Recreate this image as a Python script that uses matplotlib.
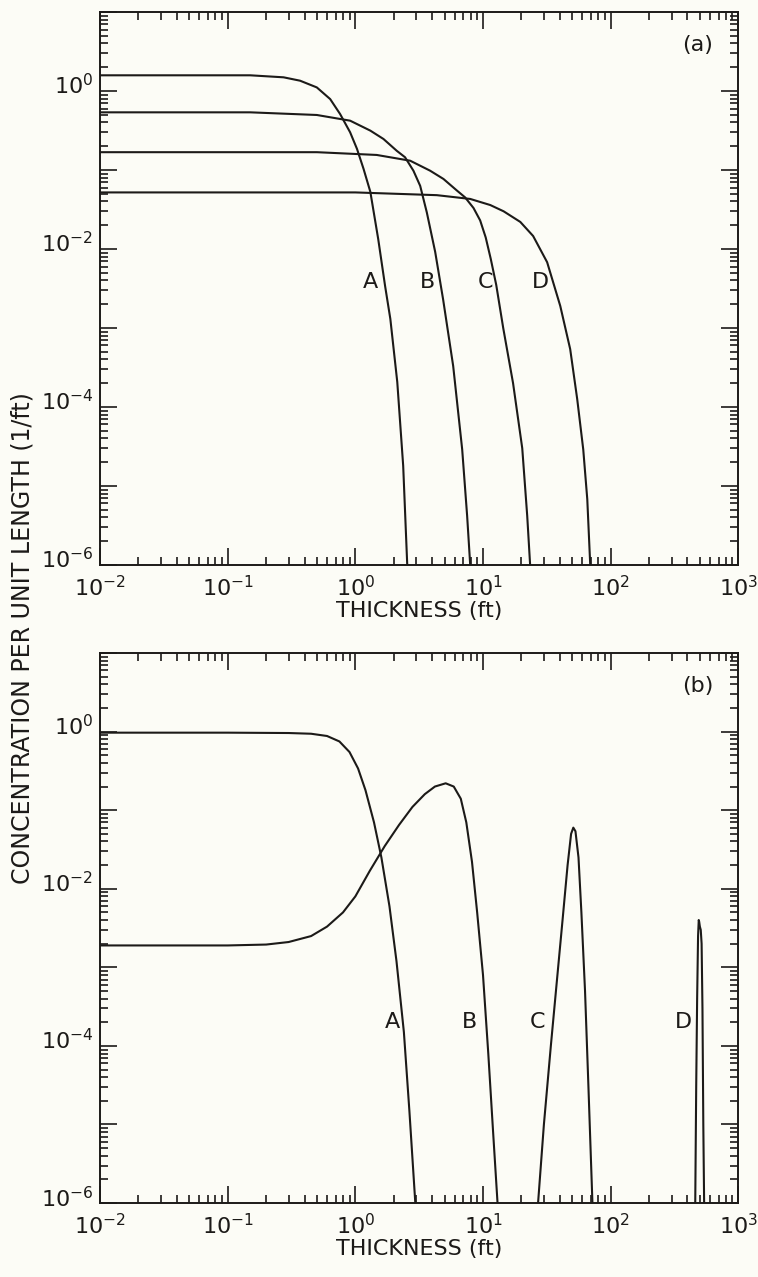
import math
import matplotlib.pyplot as plt
from matplotlib.ticker import LogLocator, FuncFormatter, NullFormatter
from matplotlib.transforms import ScaledTranslation

plt.rcParams['font.family'] = ['DejaVu Sans']
plt.rcParams['mathtext.fontset'] = 'dejavusans'

# panel (a): thickness (ft) vs concentration per unit length (1/ft)
a_A_x = [0.01, 0.06, 0.15, 0.274, 0.369, 0.499, 0.635, 0.76, 0.91, 1.03, 1.16, 1.31, 1.51, 1.71, 1.88, 2.13, 2.37, 2.55]
a_A_y = [1.58, 1.58, 1.58, 1.49, 1.35, 1.11, 0.79, 0.51, 0.30, 0.185, 0.103, 0.053, 0.0134, 3.4e-3, 1.3e-3, 2.07e-4, 1.8e-5, 1e-6]
a_B_x = [0.01, 0.15, 0.499, 0.91, 1.31, 1.66, 2.11, 2.45, 2.85, 3.22, 3.63, 4.22, 4.87, 5.84, 6.87, 7.51, 7.94]
a_B_y = [0.537, 0.537, 0.497, 0.421, 0.315, 0.247, 0.175, 0.145, 0.098, 0.063, 0.029, 9.2e-3, 2.3e-3, 3.3e-4, 2.9e-5, 4.2e-6, 1e-6]
a_C_x = [0.01, 0.5, 1.47, 2.69, 3.85, 4.90, 6.24, 7.24, 8.43, 9.5, 10.5, 11.5, 12.7, 14.4, 17.2, 20.3, 22.2, 23.4]
a_C_y = [0.168, 0.168, 0.155, 0.131, 0.098, 0.077, 0.055, 0.045, 0.033, 0.023, 0.014, 7.5e-3, 3.5e-3, 1e-3, 2e-4, 3e-5, 4.2e-6, 1e-6]
a_D_x = [0.01, 1.0, 4.35, 7.94, 11.4, 14.5, 19.6, 24.7, 31.8, 40.3, 48.2, 54.7, 61.0, 65.6, 69.2]
a_D_y = [0.052, 0.052, 0.048, 0.043, 0.036, 0.030, 0.022, 0.0146, 6.8e-3, 1.9e-3, 5.4e-4, 1.26e-4, 2.9e-5, 6.8e-6, 1e-6]

# panel (b)
b_A_x = [0.01, 0.1, 0.3, 0.45, 0.6, 0.75, 0.9, 1.05, 1.2, 1.4, 1.6, 1.85, 2.1, 2.4, 2.65, 2.95]
b_A_y = [0.97, 0.97, 0.96, 0.94, 0.88, 0.75, 0.55, 0.34, 0.18, 0.07, 0.025, 6e-3, 1.2e-3, 1.5e-4, 1.5e-5, 1e-6]
b_B_x = [0.01, 0.1, 0.2, 0.3, 0.45, 0.6, 0.8, 1.0, 1.3, 1.7, 2.2, 2.8, 3.5, 4.2, 5.1, 5.9, 6.7, 7.4, 8.2, 9.0, 10.0, 11.0, 12.0, 13.0]
b_B_y = [1.9e-3, 1.9e-3, 1.95e-3, 2.1e-3, 2.5e-3, 3.3e-3, 5e-3, 8e-3, 0.017, 0.035, 0.065, 0.11, 0.16, 0.2, 0.22, 0.2, 0.14, 0.07, 0.022, 5e-3, 8e-4, 8e-5, 8e-6, 1e-6]
b_C_x = [27, 30, 34, 38, 42, 46, 49, 51, 53, 56, 59, 63, 67, 72]
b_C_y = [1e-6, 1e-5, 1e-4, 7e-4, 4e-3, 0.02, 0.05, 0.06, 0.054, 0.025, 5e-3, 5e-4, 3e-5, 1e-6]
b_D_x = [460, 468, 476, 484, 490, 494, 500, 508, 516, 524, 532, 540]
b_D_y = [1e-6, 3e-5, 4e-4, 2.5e-3, 4e-3, 3.8e-3, 3.3e-3, 3e-3, 2e-3, 3e-4, 1e-5, 1e-6]

curve_names = ['A', 'B', 'C', 'D']
a_label_x = [1.31, 3.65, 10.4, 28]
a_label_y = 3.8e-3
b_label_x = [1.95, 7.9, 26.6, 371]
b_label_y = 2e-4

bg = '#fcfcf6'
ink = '#1c1a18'

fig = plt.figure(figsize=(7.58, 12.77), dpi=100, facecolor=bg)
ax1 = fig.add_axes([0.132, 0.5576, 0.842, 0.4330])
ax2 = fig.add_axes([0.132, 0.0579, 0.842, 0.4307])


def even_pow(v, pos):
    e = int(round(math.log10(v)))
    if e % 2 == 0:
        return r'$10^{%d}$' % e
    return ''


def style(ax, tag):
    ax.set_facecolor(bg)
    ax.set_xscale('log')
    ax.set_yscale('log')
    ax.set_xlim(1e-2, 1e3)
    ax.set_ylim(1e-6, 1e1)
    ax.xaxis.set_major_locator(LogLocator(base=10, numticks=20))
    ax.xaxis.set_minor_locator(LogLocator(base=10, subs=range(2, 10), numticks=20))
    ax.yaxis.set_major_locator(LogLocator(base=10, numticks=20))
    ax.yaxis.set_minor_locator(LogLocator(base=10, subs=range(2, 10), numticks=20))
    ax.yaxis.set_major_formatter(FuncFormatter(even_pow))
    ax.xaxis.set_minor_formatter(NullFormatter())
    ax.yaxis.set_minor_formatter(NullFormatter())
    ax.tick_params(which='both', direction='in', top=True, right=True, colors=ink, width=1.2)
    ax.tick_params(which='major', length=12, labelsize=16, pad=5)
    ax.tick_params(axis='x', which='major', pad=7)
    ax.tick_params(which='minor', length=6)
    for s in ax.spines.values():
        s.set_color(ink)
        s.set_linewidth(1.4)
    ax.set_xlabel('THICKNESS (ft)', fontsize=16, color=ink, labelpad=1)
    ax.text(0.936, 0.94, tag, transform=ax.transAxes, fontsize=16, color=ink, ha='center', va='center')
    # y labels sit a little above their ticks, as in the original
    shift = ScaledTranslation(0, 5 / 72, fig.dpi_scale_trans)
    for lab in ax.get_yticklabels():
        lab.set_transform(lab.get_transform() + shift)


style(ax1, '(a)')
style(ax2, '(b)')

for xs, ys in [(a_A_x, a_A_y), (a_B_x, a_B_y), (a_C_x, a_C_y), (a_D_x, a_D_y)]:
    ax1.plot(xs, ys, color=ink, linewidth=1.5)
for xs, ys in [(b_A_x, b_A_y), (b_B_x, b_B_y), (b_C_x, b_C_y), (b_D_x, b_D_y)]:
    ax2.plot(xs, ys, color=ink, linewidth=1.5)

for name, lx in zip(curve_names, a_label_x):
    ax1.text(lx, a_label_y, name, fontsize=16, color=ink, ha='center', va='center')
for name, lx in zip(curve_names, b_label_x):
    ax2.text(lx, b_label_y, name, fontsize=16, color=ink, ha='center', va='center')

fig.text(0.030, 0.50, 'CONCENTRATION PER UNIT LENGTH (1/ft)', rotation=90,
         fontsize=17, color=ink, ha='center', va='center')

fig.savefig('out.png', dpi=100, facecolor=bg)
